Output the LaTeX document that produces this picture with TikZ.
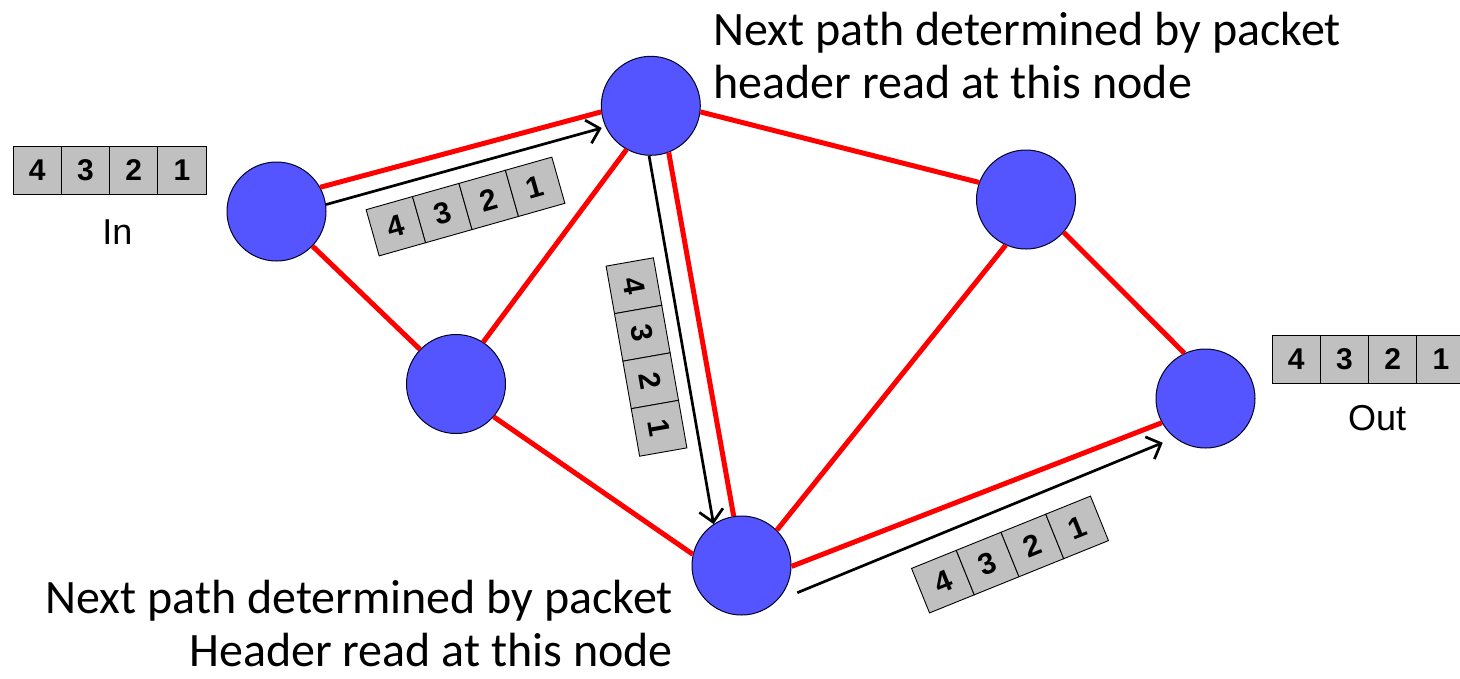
\documentclass[tikz,border=0pt]{standalone}
\usepackage{fontspec}
\setmainfont{Carlito}
\newfontfamily\arialfont{Liberation Sans}
\usetikzlibrary{arrows.meta}
\definecolor{nodeblue}{RGB}{85,85,255}
\definecolor{pktgray}{RGB}{192,192,192}
\definecolor{edgered}{RGB}{255,0,0}
\tikzset{
  router/.style={circle, minimum size=99pt, inner sep=0pt, fill=nodeblue, draw=black!85!blue, line width=1pt},
  redline/.style={draw=edgered, line width=5pt},
  flowarrow/.style={draw=black, line width=2.7pt, -{Straight Barb[length=12pt,width=24pt,line width=2.7pt]}},
  pktbox/.style={rectangle, draw=black, line width=0.9pt, fill=pktgray, minimum width=48.25pt, minimum height=48pt, inner sep=0pt, font=\arialfont\bfseries\fontsize{30}{30}\selectfont},
  biglabel/.style={font=\fontsize{48}{53}\selectfont, inner sep=0pt},
  iolabel/.style={font=\arialfont\fontsize{36}{36}\selectfont, inner sep=0pt}
}
\newcommand{\pkt}[3]{%
  \begin{scope}[shift={#2}, rotate=#3, transform shape]
    \foreach \i/\d in {0/4,1/3,2/2,3/1} {
      \node[pktbox] (#1-\d) at ({(\i-1.5)*48.25},0) {\d};
    }
  \end{scope}}
\begin{document}
\begin{tikzpicture}[x=1pt,y=-1pt]
\useasboundingbox (0,0) rectangle (1460,678);
\fill[white] (0,0) rectangle (1460,678);

% routers
\node[router] (A) at (276.5,211.5) {};
\node[router] (B) at (650.8,105.8) {};
\node[router] (C) at (456,384) {};
\node[router] (D) at (1026,199.5) {};
\node[router] (E) at (1205.5,398.5) {};
\node[router] (F) at (741.5,565.5) {};

% red links
\draw[redline] (A.29) -- (B.187);
\draw[redline] (A) -- (C);
\draw[redline] (C.57) -- (B.241);
\draw[redline] (B.-7) -- (D.160);
\draw[redline] (D.-41) -- (E.115);
\draw[redline] (F.45) -- (D.246);
\draw[redline] (C.-41) -- (F.167);
\draw[redline] (B.-69) -- (F.99);
\draw[redline] (F.-1) -- (E.209);

% flow arrows
\coordinate (a1e) at (601.7,128);
\coordinate (a3s) at (797.3,592.7);
\coordinate (a3e) at (1162.7,442.7);
\draw[flowarrow] (A.8) -- (a1e);
\draw[flowarrow] (B.-92) -- (F.124);
\draw[flowarrow] (a3s) -- (a3e);

% packets
\pkt{pin}{(109.5,170)}{0}
\pkt{pab}{(465.5,206.5)}{15.8}
\pkt{pbf}{(646.5,357)}{-80}
\pkt{pfe}{(1010,554.5)}{22}
\pkt{pout}{(1368.5,359.5)}{0}

% labels
\node[iolabel] (lin) at (117.5,232) {In};
\node[iolabel] (lout) at (1377,418) {Out};
\node[biglabel, align=left, anchor=base west] (ttop) at (713,98) {Next path determined by packet\\header read at this node};
\node[biglabel, align=right, anchor=base east] (tbot) at (673,666) {Next path determined by packet\\Header read at this node};
\end{tikzpicture}
\end{document}
